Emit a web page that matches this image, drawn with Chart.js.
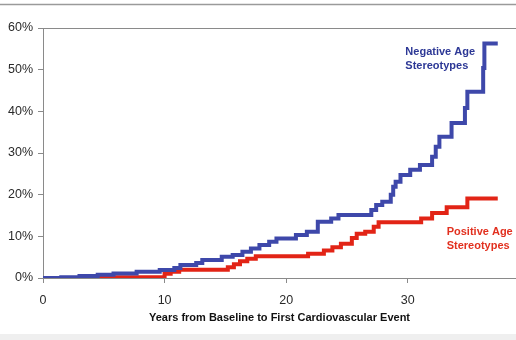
<!DOCTYPE html>
<html>
<head>
<meta charset="utf-8">
<script src="https://cdn.jsdelivr.net/npm/chart.js@4"></script>
<style>
  html, body { margin: 0; padding: 0; background: #fff; }
  #wrap { width: 516px; height: 340px; position: relative; }
</style>
</head>
<body>
<div id="wrap"><canvas id="kmChart" width="516" height="340"></canvas></div>
<script>
// años desde la línea base / incidencia acumulada (%)
var negYears = [0, 1.5, 3, 4.5, 5.8, 7.7, 9.6, 10.8, 11.3, 12.6, 13.1, 14.7, 15.6, 16.4, 17.1, 17.8, 18.6, 19.2, 20.8, 21.7, 22.6, 23.7, 24.3, 27.0, 27.4, 27.9, 28.6, 28.8, 29.0, 29.4, 30.2, 31.0, 32.0, 32.3, 32.6, 33.6, 34.7, 34.9, 36.2, 36.3, 37.4];
var negValues = [0, 0.2, 0.5, 0.8, 1.1, 1.5, 1.9, 2.4, 3.1, 3.6, 4.3, 5.1, 5.5, 6.3, 7.1, 7.9, 8.7, 9.5, 10.3, 11.1, 13.5, 14.3, 15.1, 16.3, 17.5, 18.3, 20.0, 21.9, 23.1, 24.7, 26.0, 27.1, 29.1, 31.5, 33.9, 37.2, 40.8, 44.7, 50.4, 56.3, 56.3];

var posYears = [0, 4, 10, 10.5, 11.2, 15.2, 15.7, 16.2, 16.8, 17.5, 21.8, 23.1, 23.8, 24.5, 25.4, 25.8, 26.5, 27.2, 27.6, 31.1, 32.0, 33.2, 34.9, 37.4];
var posValues = [0, 0.2, 1.0, 1.5, 2.0, 2.6, 3.3, 4.0, 4.6, 5.2, 5.8, 6.6, 7.4, 8.2, 9.6, 10.6, 11.1, 12.3, 13.4, 14.3, 15.6, 17.0, 19.1, 19.1];

var xTicks = [0, 10, 20, 30];
var yTicks = [0, 10, 20, 30, 40, 50, 60];

function toPoints(xs, ys) {
  var pts = [];
  for (var i = 0; i < xs.length; i++) pts.push({ x: xs[i], y: ys[i] });
  return pts;
}

// marco de la diapositiva y etiquetas de las curvas
var framePlugin = {
  id: 'frame',
  beforeDraw: function (chart) {
    var ctx = chart.ctx;
    ctx.save();
    ctx.fillStyle = '#fff';
    ctx.fillRect(0, 0, chart.width, chart.height);
    ctx.strokeStyle = '#9a9a9a';
    ctx.lineWidth = 1.5;
    ctx.beginPath();
    ctx.moveTo(0, 4.5);
    ctx.lineTo(chart.width, 4.5);
    ctx.stroke();
    ctx.fillStyle = '#efefef';
    ctx.fillRect(0, 334, chart.width, chart.height - 334);
    ctx.restore();
  },
  afterDatasetsDraw: function (chart) {
    var ctx = chart.ctx;
    var xs = chart.scales.x, ys = chart.scales.y;
    ctx.save();
    ctx.font = 'bold 11px "Liberation Sans", Arial, sans-serif';
    ctx.textBaseline = 'middle';
    ctx.textAlign = 'left';
    ctx.fillStyle = '#2d3896';
    ctx.fillText('Negative Age', xs.getPixelForValue(29.8), ys.getPixelForValue(54.3));
    ctx.fillText('Stereotypes', xs.getPixelForValue(29.8), ys.getPixelForValue(51.0));
    ctx.fillStyle = '#e2301f';
    ctx.fillText('Positive Age', xs.getPixelForValue(33.2), ys.getPixelForValue(11.0));
    ctx.fillText('Stereotypes', xs.getPixelForValue(33.2), ys.getPixelForValue(7.7));
    ctx.restore();
  }
};

new Chart(document.getElementById('kmChart').getContext('2d'), {
  type: 'line',
  data: {
    datasets: [
      {
        label: 'Negative Age Stereotypes',
        data: toPoints(negYears, negValues),
        borderColor: 'rgb(62, 72, 170)',
        borderWidth: 4,
        stepped: true,
        pointRadius: 0,
        fill: false
      },
      {
        label: 'Positive Age Stereotypes',
        data: toPoints(posYears, posValues),
        borderColor: 'rgb(226, 36, 22)',
        borderWidth: 4,
        stepped: true,
        pointRadius: 0,
        fill: false
      }
    ]
  },
  options: {
    responsive: false,
    animation: false,
    layout: { padding: { top: 28, right: 0, bottom: 0, left: 0 } },
    plugins: { legend: { display: false }, tooltip: { enabled: false } },
    scales: {
      x: {
        type: 'linear',
        min: 0,
        max: 38.9,
        afterBuildTicks: function (scale) {
          scale.ticks = xTicks.map(function (v) { return { value: v }; });
        },
        afterFit: function (scale) { scale.height = 62; },
        border: { display: true, color: '#8a8a8a', width: 1 },
        grid: { drawOnChartArea: false, tickLength: 5, tickColor: '#8a8a8a' },
        ticks: {
          padding: 10,
          color: '#2a2a2a',
          font: { family: '"Liberation Sans", Arial, sans-serif', size: 12.5 },
          maxRotation: 0
        },
        title: {
          display: true,
          text: 'Years from Baseline to First Cardiovascular Event',
          color: '#111',
          font: { family: '"Liberation Sans", Arial, sans-serif', size: 11, weight: 'bold' },
          padding: { top: 4, bottom: 15 }
        }
      },
      y: {
        min: 0,
        max: 60,
        afterBuildTicks: function (scale) {
          scale.ticks = yTicks.map(function (v) { return { value: v }; });
        },
        afterFit: function (scale) { scale.width = 43; },
        border: { display: true, color: '#8a8a8a', width: 1 },
        grid: {
          tickLength: 5,
          tickColor: '#8a8a8a',
          color: function (ctx) { return ctx.tick && ctx.tick.value === 60 ? '#8a8a8a' : 'rgba(0,0,0,0)'; }
        },
        ticks: {
          padding: 5,
          color: '#2a2a2a',
          font: { family: '"Liberation Sans", Arial, sans-serif', size: 12.5 },
          callback: function (v) { return v + '%'; }
        }
      }
    }
  },
  plugins: [framePlugin]
});
</script>
</body>
</html>
